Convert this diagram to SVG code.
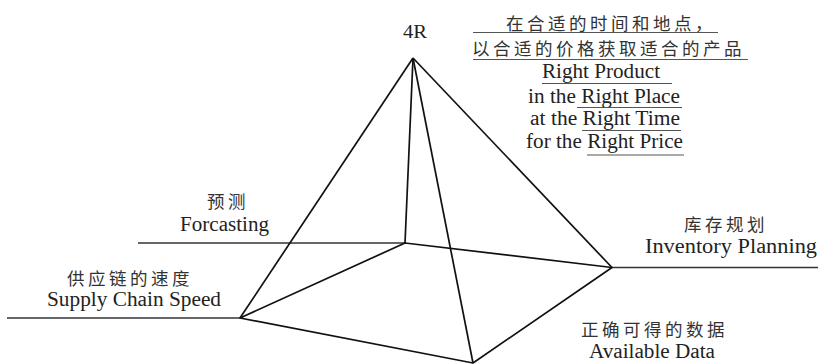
<svg xmlns="http://www.w3.org/2000/svg" width="818" height="364" viewBox="0 0 818 364">
<style>
.en{font-family:"Liberation Serif","Times New Roman",serif;font-size:20px;fill:#222}
.lb{font-size:20px}
.cjk{font-family:"Noto Sans CJK SC","Noto Sans CJK JP",sans-serif;font-size:17.5px;letter-spacing:3.5px;fill:#333}
.edge{stroke:#111;stroke-width:1.7;fill:none;stroke-linejoin:round}
.base{stroke:#333;stroke-width:1.5;fill:none}
.ul{stroke:#555;stroke-width:1.2}
</style>
<rect width="818" height="364" fill="#fff"/>
<g id="connectors">
  <line class="base" x1="138" y1="243" x2="405" y2="243"/>
  <line class="base" x1="7" y1="318" x2="240" y2="318"/>
  <line class="base" x1="612" y1="267.5" x2="818" y2="267.5"/>
  <path class="edge" d="M240,318 L405,243 L612,267.5 L473,363 Z"/>
  <line class="edge" x1="413" y1="58" x2="240" y2="318"/>
  <line class="edge" x1="413" y1="58" x2="405" y2="243"/>
  <line class="edge" x1="413" y1="58" x2="612" y2="267.5"/>
  <line class="edge" x1="413" y1="58" x2="473" y2="363"/>
</g>
<g id="apex-4R">
  <text class="en" x="403" y="38" textLength="24" lengthAdjust="spacingAndGlyphs" style="font-size:18px">4R</text>
</g>
<g id="goal">
  <text class="cjk" x="506" y="29.5">在合适的时间和地点，</text>
  <line class="ul" x1="473" y1="32.5" x2="718" y2="32.5"/>
  <text class="cjk" x="472" y="54.7">以合适的价格获取适合的产品</text>
  <line class="ul" x1="473" y1="59.5" x2="748" y2="59.5"/>
  <text class="en" x="542" y="78" textLength="118" lengthAdjust="spacingAndGlyphs">Right Product</text>
  <line class="ul" x1="542" y1="83.5" x2="672" y2="83.5"/>
  <text class="en" x="528" y="102.7" textLength="152" lengthAdjust="spacingAndGlyphs">in the Right Place</text>
  <line class="ul" x1="577" y1="107.5" x2="682" y2="107.5"/>
  <text class="en" x="530" y="125" textLength="150" lengthAdjust="spacingAndGlyphs">at the Right Time</text>
  <line class="ul" x1="582" y1="130.5" x2="681" y2="130.5"/>
  <text class="en" x="526" y="148.3" textLength="157" lengthAdjust="spacingAndGlyphs">for the Right Price</text>
  <line class="ul" x1="587" y1="155" x2="684" y2="155"/>
</g>
<g id="forcasting">
  <text class="cjk" x="207" y="208">预测</text>
  <text class="en lb" x="180" y="230.5" textLength="89" lengthAdjust="spacingAndGlyphs">Forcasting</text>
</g>
<g id="supply-chain-speed">
  <text class="cjk" x="67" y="285">供应链的速度</text>
  <text class="en lb" x="47" y="306" textLength="174" lengthAdjust="spacingAndGlyphs">Supply Chain Speed</text>
</g>
<g id="inventory-planning">
  <text class="cjk" x="684" y="231">库存规划</text>
  <text class="en lb" x="645" y="253" textLength="172" lengthAdjust="spacingAndGlyphs">Inventory Planning</text>
</g>
<g id="available-data">
  <text class="cjk" x="581" y="336">正确可得的数据</text>
  <text class="en lb" x="589" y="358" textLength="126" lengthAdjust="spacingAndGlyphs">Available Data</text>
</g>
</svg>
